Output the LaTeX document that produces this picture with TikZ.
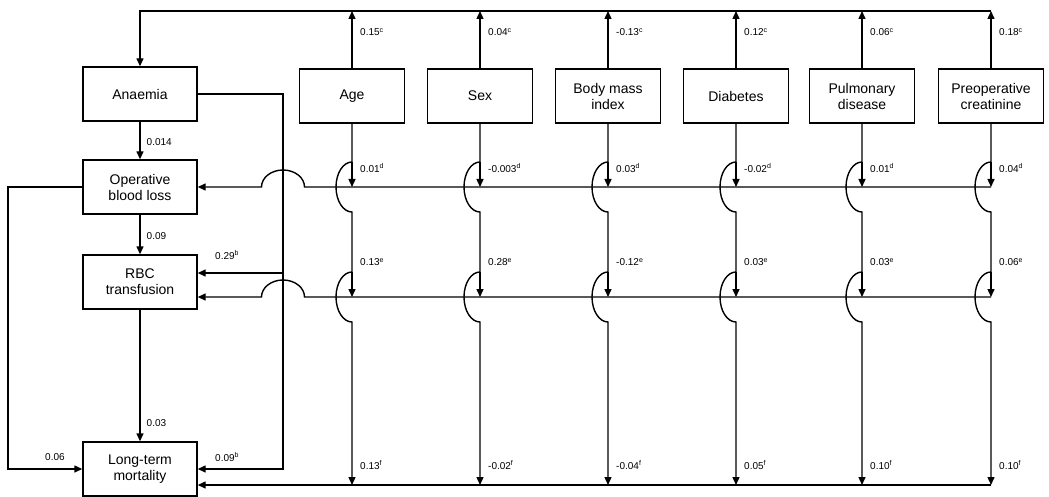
\documentclass[tikz,border=0pt]{standalone}
\usepackage{fontspec}
\setmainfont{Liberation Sans}
\usetikzlibrary{arrows.meta}
\begin{document}
\begin{tikzpicture}[x=1pt,y=1pt,
  ln/.style={line width=1.4pt},
  arr/.style={ln,-{Triangle[length=8pt,width=7pt]}},
  lbox/.style={draw,line width=1.4pt,minimum width=114pt,minimum height=54pt,align=center,font=\fontsize{14}{16}\selectfont,inner sep=2pt},
  tbox/.style={lbox,minimum width=105pt},
  lab/.style={font=\fontsize{10}{12}\selectfont,anchor=west,inner sep=0pt}]
\useasboundingbox (0,0) rectangle (1049,-497);
% left column boxes
\node[lbox] (anaemia) at (140,-94) {Anaemia};
\node[lbox] (obl) at (140,-187) {Operative\\blood loss};
\node[lbox] (rbc) at (140,-282) {RBC\\transfusion};
\node[lbox] (mort) at (140,-469) {Long-term\\mortality};
% left chain
\draw[arr] (anaemia) -- (obl) node[lab,pos=0.55,right=6pt] {0.014};
\draw[arr] (obl) -- (rbc) node[lab,pos=0.55,right=6pt] {0.09};
\draw[arr] (rbc) -- (mort) node[lab,pos=0.86,right=6pt] {0.03};
\draw[arr] (obl.west) -- (8,-187) -- (8,-469) -- (mort.west);
\node[lab] (l006) at (45,-457) {0.06};
\coordinate (aj) at (283,-94);
\coordinate (ab) at (283,-469);
\coordinate (ar) at (283,-273);
\draw[arr] (anaemia.east) -- (aj) -- (ab) -- (mort.east);
\draw[arr] (ar) -- ([yshift=9pt]rbc.east);
\node[lab] (l029) at (215,-255) {0.29\textsuperscript{b}};
\node[lab] (l009) at (215,-457) {0.09\textsuperscript{b}};
% top line into Anaemia
\coordinate (tr) at (991,-11);
\coordinate (tl) at (140,-11);
\draw[arr] (tr) -- (tl) -- (anaemia.north);
% horizontal lines
\coordinate (h1) at (991,-187);
\coordinate (h2) at (991,-297);
\coordinate (h3) at (991,-485);
\draw[arr] (h1) -- (304.5,-187) arc[start angle=0,end angle=180,x radius=21.5,y radius=17] -- (obl.east);
\draw[arr] (h2) -- (304.5,-297) arc[start angle=0,end angle=180,x radius=21.5,y radius=17] -- ([yshift=-15pt]rbc.east);
\draw[arr] (h3) -- ([yshift=-16pt]mort.east);
% columns
\foreach \i/\x/\t/\a/\b/\c/\d in {
  1/352/{Age}/{0.15}/{0.01}/{0.13}/{0.13},
  2/480/{Sex}/{0.04}/{-0.003}/{0.28}/{-0.02},
  3/608/{Body mass\\index}/{-0.13}/{0.03}/{-0.12}/{-0.04},
  4/736/{Diabetes}/{0.12}/{-0.02}/{0.03}/{0.05},
  5/862/{Pulmonary\\disease}/{0.06}/{0.01}/{0.03}/{0.10},
  6/991/{Preoperative\\creatinine}/{0.18}/{0.04}/{0.06}/{0.10}}{
  \node[tbox] (c\i) at (\x,-96) {\t};
  \draw[arr] (c\i.north) -- (\x,-11);
  \draw[arr] (c\i.south) -- (\x,-162) arc[start angle=90,end angle=270,x radius=16,y radius=25]
     -- (\x,-272) arc[start angle=90,end angle=270,x radius=16,y radius=25] -- (\x,-485);
  \draw[arr] (\x,-162) -- (\x,-187);
  \draw[arr] (\x,-272) -- (\x,-297);
  \node[lab] (ta\i) at (\x+8,-32) {\a\textsuperscript{c}};
  \node[lab] (tb\i) at (\x+8,-168) {\b\textsuperscript{d}};
  \node[lab] (tc\i) at (\x+8,-262) {\c\textsuperscript{e}};
  \node[lab] (td\i) at (\x+8,-465) {\d\textsuperscript{f}};
}
\end{tikzpicture}
\end{document}
